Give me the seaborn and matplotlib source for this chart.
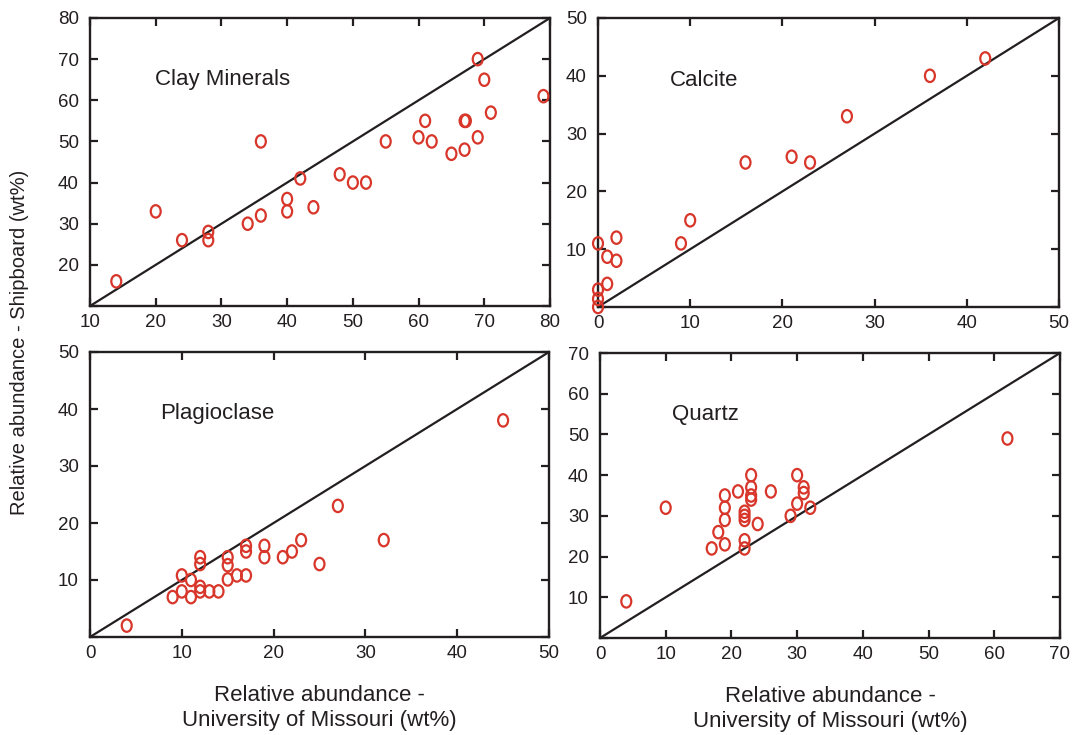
#!/usr/bin/env python3

# Shipboard vs University of Missouri XRD mineral abundances, four panels.

import seaborn as sns
import matplotlib
matplotlib.use("Agg")  # no display
import matplotlib.pyplot as plt
import pandas as pd
from matplotlib.path import Path
from matplotlib.transforms import Affine2D

# {{{ data

clay_mu = [14, 20, 24, 28, 28, 34, 36, 36, 40, 40, 42, 44, 48, 50, 52, 55,
           60, 61, 62, 65, 67, 67.2, 67, 69, 69, 70, 71, 79]
clay_ship = [16, 33, 26, 28, 26, 30, 32, 50, 36, 33, 41, 34, 42, 40, 40, 50,
             51, 55, 50, 47, 55, 55, 48, 51, 70, 65, 57, 61]

calcite_mu = [0, 0, 0, 0, 1, 1, 2, 2, 9, 10, 16, 21, 23, 27, 36, 42]
calcite_ship = [0, 1.4, 3, 11, 4, 8.7, 12, 8, 11, 15, 25, 26, 25, 33, 40, 43]

plag_mu = [4, 9, 10, 10, 11, 11, 12, 12, 12, 12, 13, 14, 15, 15, 15, 16,
           17, 17, 17, 19, 19, 21, 22, 23, 25, 27, 32, 45]
plag_ship = [2, 7, 10.8, 8, 10, 7, 14, 12.8, 8.8, 8, 8, 8, 14, 12.6, 10.1, 10.8,
             16, 15, 10.8, 16, 14, 14, 15, 17, 12.8, 23, 17, 38]

quartz_mu = [4, 10, 17, 18, 19, 19, 19, 19, 21, 22, 22, 22, 22, 22, 23, 23,
             23, 23, 24, 26, 29, 30, 30, 31, 31, 32, 62]
quartz_ship = [9, 32, 22, 26, 23, 29, 32, 35, 36, 22, 24, 29, 30, 31, 40, 37,
               35, 34, 28, 36, 30, 40, 33, 37, 35.6, 32, 49]

panels = [
    # name, x, y, limits, y tick labels, x tick labels
    ("Clay Minerals", clay_mu, clay_ship, (10, 80),
     [20, 30, 40, 50, 60, 70, 80], [10, 20, 30, 40, 50, 60, 70, 80]),
    ("Calcite", calcite_mu, calcite_ship, (0, 50),
     [10, 20, 30, 40, 50], [0, 10, 20, 30, 40, 50]),
    ("Plagioclase", plag_mu, plag_ship, (0, 50),
     [10, 20, 30, 40, 50], [0, 10, 20, 30, 40, 50]),
    ("Quartz", quartz_mu, quartz_ship, (0, 70),
     [10, 20, 30, 40, 50, 60, 70], [0, 10, 20, 30, 40, 50, 60, 70]),
]

# }}} data

ylabel = "Relative abundance - Shipboard (wt%)"
xlabel = "Relative abundance -\nUniversity of Missouri (wt%)"

ink = "#231f20"
red = "#d8362a"

sns.set_style("ticks")
plt.rcParams["font.family"] = ["Liberation Sans", "DejaVu Sans"]
plt.rcParams["text.color"] = ink
plt.rcParams["axes.labelcolor"] = ink
plt.rcParams["xtick.color"] = ink
plt.rcParams["ytick.color"] = ink

# slightly tall open ellipse, like the original markers
ellipse = Path.unit_circle().transformed(Affine2D().scale(0.8, 1.0))

W, H = 1076, 735
fig = plt.figure(figsize=(W / 100, H / 100), dpi=100)

# axes boxes in pixels: left, top, right, bottom
boxes = [
    (90, 18, 550, 306),
    (598, 18, 1059, 307),
    (90, 352, 549, 637),
    (600, 353, 1060, 638),
]
# panel name position, axes fraction
name_pos = [(0.141, 0.785), (0.156, 0.785), (0.152, 0.785), (0.157, 0.785)]

axes = []
for (name, xs, ys, lim, yt, xt), (l, t, r, b), (nx, ny) in zip(panels, boxes, name_pos):
    ax = fig.add_axes([l / W, 1 - b / H, (r - l) / W, (b - t) / H])
    axes.append(ax)
    df = pd.DataFrame({"mu": xs, "ship": ys})

    ax.axline((lim[0], lim[0]), slope=1, color=ink, lw=1.6, zorder=2)
    sns.scatterplot(data=df, x="mu", y="ship", ax=ax, marker=ellipse, s=80,
                    facecolors="none", edgecolor=red, linewidth=1.6,
                    zorder=3, clip_on=False)

    ax.set_xlim(*lim)
    ax.set_ylim(*lim)
    ax.set_xticks(xt)
    if yt[0] != lim[0]:
        ax.set_yticks([lim[0]] + yt)
        ax.set_yticklabels([""] + [str(v) for v in yt])
    else:
        ax.set_yticks(yt)
    ax.set_xlabel("")
    ax.set_ylabel("")
    ax.tick_params(direction="in", length=6, width=1.6, top=True, right=True,
                   labelsize=13.5)
    ax.tick_params(axis="x", pad=6)
    ax.tick_params(axis="y", pad=8)
    for sp in ax.spines.values():
        sp.set_linewidth(1.7)
        sp.set_color(ink)

    ax.text(nx, ny, name, transform=ax.transAxes, fontsize=16,
            ha="left", va="center")

for ax in axes[2:]:
    ax.set_xlabel(xlabel, fontsize=16, labelpad=16, linespacing=1.3)

fig.text(20 / W, 1 - 342 / H, ylabel, rotation=90, fontsize=14.5,
         ha="center", va="center")

plt.savefig("out.png", dpi=100)
plt.close()
